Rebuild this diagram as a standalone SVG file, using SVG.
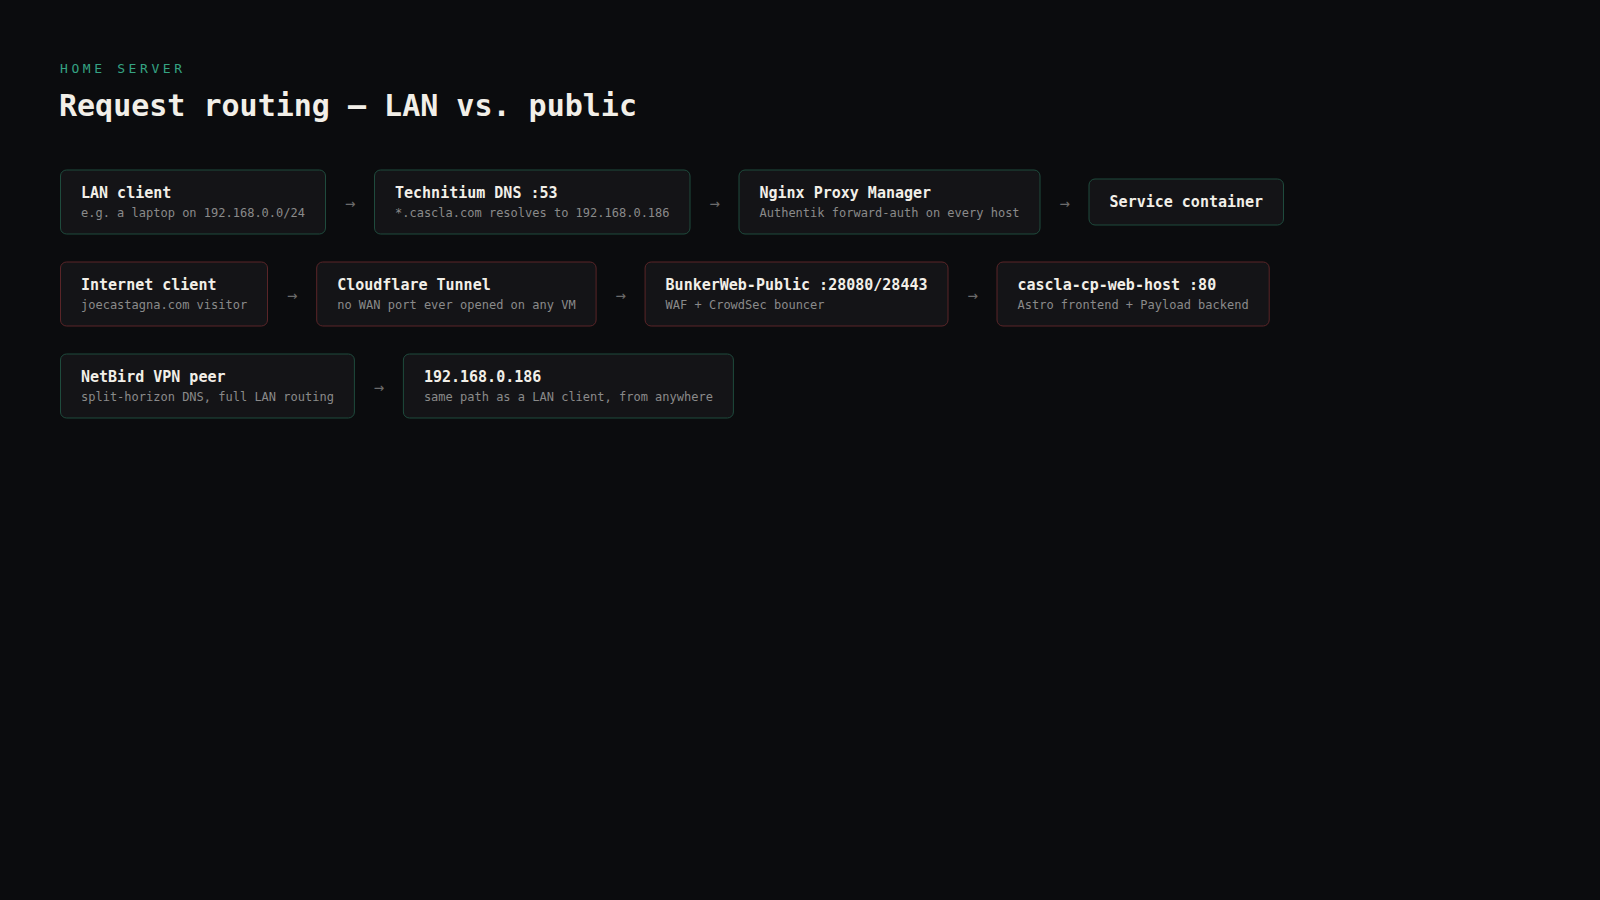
<svg xmlns="http://www.w3.org/2000/svg" width="1600" height="900" viewBox="0 0 1600 900">
<style>
text{font-family:"DejaVu Sans Mono","Liberation Mono",monospace}
.eyebrow{font-size:13px;letter-spacing:3.6px;fill:#35a383}
.h1{font-size:30px;font-weight:bold;fill:#f2efe8}
.box{fill:#141417;stroke-width:1}
.lan{stroke:#1f4b3d}
.pub{stroke:#5a2528}
.t{font-size:15px;font-weight:bold;fill:#f2efe8}
.s{font-size:12px;fill:#8a8a8a}
.arr{font-size:17px;fill:#6b6b6b;text-anchor:middle}
</style>
<rect width="1600" height="900" fill="#0b0c0e"/>
<text class="eyebrow" x="60" y="72.5">HOME SERVER</text>
<text class="h1" x="59" y="116">Request routing — LAN vs. public</text>

<g id="lan-client"><rect class="box lan" x="60.5" y="170" width="265" height="64" rx="6"/><text class="t" x="81" y="197.8">LAN client</text><text class="s" x="81" y="217">e.g. a laptop on 192.168.0.0/24</text></g>
<g id="technitium"><rect class="box lan" x="374.5" y="170" width="315.5" height="64" rx="6"/><text class="t" x="395" y="197.8">Technitium DNS :53</text><text class="s" x="395" y="217">*.cascla.com resolves to 192.168.0.186</text></g>
<g id="npm"><rect class="box lan" x="739" y="170" width="301" height="64" rx="6"/><text class="t" x="759.5" y="197.8">Nginx Proxy Manager</text><text class="s" x="759.5" y="217">Authentik forward-auth on every host</text></g>
<g id="service"><rect class="box lan" x="1089" y="179" width="194.5" height="46" rx="6"/><text class="t" x="1109.6" y="207">Service container</text></g>

<g id="internet-client"><rect class="box pub" x="60.5" y="262" width="207" height="64" rx="6"/><text class="t" x="81" y="289.8">Internet client</text><text class="s" x="81" y="309">joecastagna.com visitor</text></g>
<g id="cloudflare"><rect class="box pub" x="316.7" y="262" width="279.4" height="64" rx="6"/><text class="t" x="337.2" y="289.8">Cloudflare Tunnel</text><text class="s" x="337.2" y="309">no WAN port ever opened on any VM</text></g>
<g id="bunkerweb"><rect class="box pub" x="645.1" y="262" width="302.9" height="64" rx="6"/><text class="t" x="665.6" y="289.8">BunkerWeb-Public :28080/28443</text><text class="s" x="665.6" y="309">WAF + CrowdSec bouncer</text></g>
<g id="web-host"><rect class="box pub" x="997" y="262" width="272.2" height="64" rx="6"/><text class="t" x="1017.5" y="289.8">cascla-cp-web-host :80</text><text class="s" x="1017.5" y="309">Astro frontend + Payload backend</text></g>

<g id="netbird"><rect class="box lan" x="60.5" y="354" width="293.9" height="64" rx="6"/><text class="t" x="81" y="381.8">NetBird VPN peer</text><text class="s" x="81" y="401">split-horizon DNS, full LAN routing</text></g>
<g id="lan-ip"><rect class="box lan" x="403.4" y="354" width="330" height="64" rx="6"/><text class="t" x="423.9" y="381.8">192.168.0.186</text><text class="s" x="423.9" y="401">same path as a LAN client, from anywhere</text></g>

<g id="connectors">
<text class="arr" x="350" y="209">→</text>
<text class="arr" x="714.5" y="209">→</text>
<text class="arr" x="1064.6" y="209">→</text>
<text class="arr" x="292.2" y="301">→</text>
<text class="arr" x="620.6" y="301">→</text>
<text class="arr" x="972.5" y="301">→</text>
<text class="arr" x="378.9" y="393">→</text>
</g>
</svg>
